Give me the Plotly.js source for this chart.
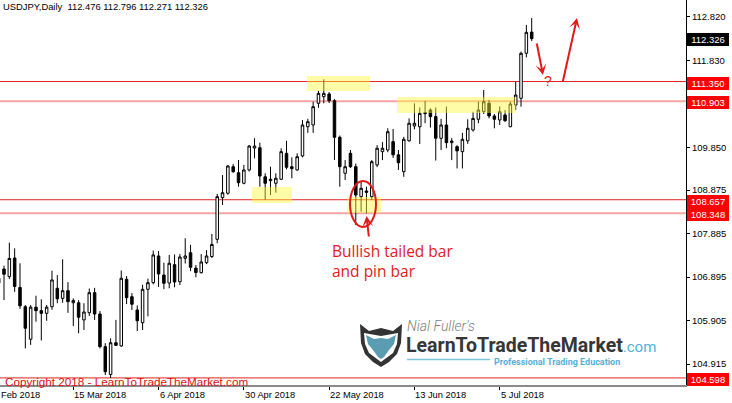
<!DOCTYPE html>
<html>
<head>
<meta charset="utf-8">
<script src="https://cdn.plot.ly/plotly-3.0.1.min.js"></script>
<style>
html,body{margin:0;padding:0;background:#fff;}
#chart{width:732px;height:403px;}
</style>
</head>
<body>
<div id="chart"></div>
<script>
// ---- data (USDJPY daily) ----
const dates = [
"2018-02-23","2018-02-26","2018-02-27","2018-02-28","2018-03-01","2018-03-02",
"2018-03-05","2018-03-06","2018-03-07","2018-03-08","2018-03-09",
"2018-03-12","2018-03-13","2018-03-14","2018-03-15","2018-03-16",
"2018-03-19","2018-03-20","2018-03-21","2018-03-22","2018-03-23",
"2018-03-26","2018-03-27","2018-03-28","2018-03-29","2018-03-30",
"2018-04-02","2018-04-03","2018-04-04","2018-04-05","2018-04-06",
"2018-04-09","2018-04-10","2018-04-11","2018-04-12","2018-04-13",
"2018-04-16","2018-04-17","2018-04-18","2018-04-19","2018-04-20",
"2018-04-23","2018-04-24","2018-04-25","2018-04-26","2018-04-27",
"2018-04-30","2018-05-01","2018-05-02","2018-05-03","2018-05-04",
"2018-05-07","2018-05-08","2018-05-09","2018-05-10","2018-05-11",
"2018-05-14","2018-05-15","2018-05-16","2018-05-17","2018-05-18",
"2018-05-21","2018-05-22","2018-05-23","2018-05-24","2018-05-25",
"2018-05-28","2018-05-29","2018-05-30","2018-05-31","2018-06-01",
"2018-06-04","2018-06-05","2018-06-06","2018-06-07","2018-06-08",
"2018-06-11","2018-06-12","2018-06-13","2018-06-14","2018-06-15",
"2018-06-18","2018-06-19","2018-06-20","2018-06-21","2018-06-22",
"2018-06-25","2018-06-26","2018-06-27","2018-06-28","2018-06-29",
"2018-07-02","2018-07-03","2018-07-04","2018-07-05","2018-07-06",
"2018-07-09","2018-07-10","2018-07-11","2018-07-12","2018-07-13"];

const open = [
106.76,107.08,106.906,107.33,106.66,106.22,
105.48,106.21,106.13,106.07,106.22,
106.64,106.41,106.585,106.31,106.31,
105.92,106.084,106.54,106.055,105.31,
104.676,105.40,105.326,106.845,106.449,
106.146,105.856,106.617,106.768,107.376,
106.943,106.76,107.178,106.79,107.323,
107.45,107.10,106.995,107.223,107.364,
107.756,108.704,108.804,109.41,109.273,
109.032,109.335,109.836,109.843,109.18,
109.091,109.032,109.123,109.715,109.41,
109.335,109.654,110.32,110.36,110.854,
111.005,111.066,110.913,110.08,109.26,
109.715,109.41,108.727,108.856,108.727,
109.45,109.752,109.79,109.98,109.68,
109.296,110.0,110.337,110.32,110.64,
110.70,110.55,110.057,110.36,109.957,
109.866,109.752,110.0,110.246,110.49,
110.663,110.854,110.565,110.474,110.59,
110.32,110.815,110.968,111.993,112.476];

const high = [
106.95,107.155,107.68,107.55,107.21,106.26,
106.26,106.47,106.39,106.26,107.04,
106.94,107.30,106.78,106.41,106.37,
106.30,106.635,106.65,106.12,105.39,
105.50,105.92,107.046,106.92,106.53,
106.25,106.72,106.86,107.50,107.49,
107.223,107.40,107.41,107.42,107.78,
107.63,107.17,107.42,107.51,107.877,
108.79,109.22,109.45,109.47,109.563,
109.45,109.904,110.057,109.956,109.26,
109.41,109.26,109.83,110.0,109.624,
109.715,110.474,110.50,110.89,111.14,
111.40,111.11,110.95,110.12,109.56,
109.79,109.48,109.07,108.954,109.56,
109.90,109.97,110.285,110.27,109.79,
110.09,110.51,110.854,110.76,110.907,
110.74,110.76,110.50,110.777,110.06,
109.90,110.18,110.49,110.66,110.89,
111.157,110.93,110.61,110.78,110.70,
110.89,111.346,112.03,112.64,112.796];

const low = [
106.70,106.37,106.85,106.56,106.17,105.27,
105.35,105.88,105.45,105.90,106.15,
106.30,106.31,106.08,105.78,105.615,
105.69,106.01,105.92,105.27,104.665,
104.598,105.33,105.31,106.28,106.146,
105.667,105.69,106.0,106.73,106.67,
106.62,106.64,106.663,106.715,107.205,
107.03,106.89,106.98,107.19,107.33,
107.665,108.538,108.77,109.27,108.954,
109.01,109.30,109.60,108.954,108.657,
108.765,108.818,109.107,109.35,109.146,
109.32,109.624,110.18,110.18,110.75,
110.854,110.86,109.563,108.954,109.107,
109.38,108.08,108.385,108.348,108.65,
109.40,109.56,109.74,109.61,109.335,
109.18,109.98,110.26,109.927,110.40,
110.30,109.55,109.79,109.83,109.56,
109.37,109.37,109.93,110.21,110.40,
110.61,110.51,110.285,110.36,110.43,
110.31,110.70,110.777,111.90,112.271];

const close = [
106.87,106.96,107.32,106.68,106.24,105.73,
106.21,106.13,106.07,106.21,106.83,
106.40,106.585,106.335,106.36,105.98,
106.10,106.54,106.055,105.31,104.74,
105.40,105.34,106.868,106.426,106.276,
105.90,106.617,106.768,107.40,106.966,
106.754,107.21,106.784,107.353,107.376,
107.118,107.0,107.24,107.376,107.638,
108.727,108.818,109.426,109.296,109.046,
109.335,109.88,109.88,109.198,109.032,
109.123,109.146,109.752,109.396,109.365,
109.638,110.36,110.435,110.777,111.08,
111.08,110.913,110.08,109.41,109.41,
109.41,108.765,108.918,108.826,109.524,
109.83,109.83,110.207,109.68,109.50,
110.034,110.40,110.40,110.626,110.62,
110.55,110.057,110.36,109.957,109.995,
109.77,110.034,110.285,110.51,110.70,
110.89,110.565,110.49,110.663,110.458,
110.838,111.043,111.993,112.47,112.326];

const tickDates  = ["2018-03-15","2018-04-06","2018-04-30","2018-05-22","2018-06-13","2018-07-05"];
const tickLabels = ["15 Mar 2018","6 Apr 2018","30 Apr 2018","22 May 2018","13 Jun 2018","5 Jul 2018"];
const edgeLabel = "Feb 2018";
const yTicks = [112.820, 111.830, 109.850, 108.875, 107.885, 106.895, 105.905, 104.915];
const levels = [111.350, 110.903, 108.657, 108.348, 104.598];
const levelKind = ["main","soft","main","soft","main"];
const lastPrice = 112.326;
const header = "USDJPY,Daily  112.476 112.796 112.271 112.326";

// ---- layout helpers (pixel -> paper) for decorations ----
const PW = 686, PH = 385;
const PX = x => x / PW;
const PY = y => 1 - y / PH;

const RED = "#e32222";
const PINK = "#f5a3a3";
const ARROW = "#e01b1b";

const shapes = [];
levels.forEach((v, i) => {
  shapes.push({type:"line", xref:"paper", yref:"y", x0:0, x1:1, y0:v, y1:v,
    layer:"below",
    line:{color: levelKind[i]==="main" ? RED : PINK, width: levelKind[i]==="main" ? 1 : 2}});
});
// yellow zones
const zones = [[307,76,370,91],[397,97,516,113],[252,187,292,203],[347,197,381,213]];
zones.forEach(z => shapes.push({type:"rect", xref:"paper", yref:"paper",
  x0:PX(z[0]), x1:PX(z[2]), y0:PY(z[3]), y1:PY(z[1]), layer:"above",
  line:{width:0}, fillcolor:"rgba(255,248,60,0.45)"}));
// ellipse
shapes.push({type:"circle", xref:"paper", yref:"paper", x0:PX(350), x1:PX(376),
  y0:PY(227), y1:PY(181), layer:"above", line:{color:ARROW, width:2}});
// logo shield
function path(pts){ return "M" + pts.map(p => PX(p[0]).toFixed(5)+","+PY(p[1]).toFixed(5)).join("L") + "Z"; }
shapes.push({type:"path", xref:"paper", yref:"paper", layer:"above", line:{width:0}, fillcolor:"#333",
  path: path([[360,324],[369,331],[381,328],[393,331],[402,324],[401,343],[397,354],[389,362],[381,367],[373,362],[365,354],[361,343]])});
shapes.push({type:"path", xref:"paper", yref:"paper", layer:"above", line:{width:0}, fillcolor:"#fff",
  path: path([[364,333],[381,336],[398,333],[397,344],[393,353],[381,362],[369,353],[365,344]])});
shapes.push({type:"path", xref:"paper", yref:"paper", layer:"above", line:{width:0}, fillcolor:"#5a9db3",
  path: path([[366,335],[374,339],[381,338],[388,339],[396,335],[394,344],[389,350],[384,357],[381,359],[378,357],[373,350],[368,344]])});
shapes.push({type:"line", xref:"paper", yref:"paper", x0:PX(407), x1:PX(490), y0:PY(359.5), y1:PY(359.5),
  layer:"above", line:{color:"#7fc3dd", width:1.5}});

const annotations = [];
// header
annotations.push({xref:"paper", yref:"paper", x:0, y:1, xanchor:"left", yanchor:"top", xshift:1, yshift:1,
  showarrow:false, text:header, font:{family:"Liberation Sans, Arial", size:9.4, color:"#000"}});
// bottom date labels
tickDates.forEach((d, i) => annotations.push({xref:"x", yref:"paper", x:dates.indexOf(d), y:0,
  xanchor:"left", yanchor:"top", yshift:-3, xshift:-1, showarrow:false, text:tickLabels[i],
  font:{family:"Liberation Sans, Arial", size:9.3, color:"#000"}}));
annotations.push({xref:"paper", yref:"paper", x:0, y:0, xanchor:"left", yanchor:"top", yshift:-3, xshift:-1,
  showarrow:false, text:edgeLabel, font:{family:"Liberation Sans, Arial", size:9.3, color:"#000"}});
// level labels
levels.forEach(v => annotations.push({xref:"paper", yref:"y", x:PX(687), y:v, xanchor:"left", yanchor:"middle",
  yshift:-1.5, showarrow:false, text:v.toFixed(3), bgcolor:"#ff0000", borderwidth:0, borderpad:1, width:40, height:11,
  font:{family:"Liberation Sans, Arial", size:9.5, color:"#fff"}}));
annotations.push({xref:"paper", yref:"y", x:PX(687), y:lastPrice, xanchor:"left", yanchor:"middle",
  yshift:-0.5, showarrow:false, text:lastPrice.toFixed(3), bgcolor:"#000", borderwidth:0, borderpad:1, width:40, height:11,
  font:{family:"Liberation Sans, Arial", size:9.5, color:"#fff"}});
// commentary
annotations.push({xref:"paper", yref:"paper", x:PX(330), y:PY(251), xanchor:"left", yanchor:"middle",
  showarrow:false, text:"Bullish tailed bar", font:{family:"Open Sans", size:15.5, color:"#dd1c1c"}});
annotations.push({xref:"paper", yref:"paper", x:PX(330), y:PY(271), xanchor:"left", yanchor:"middle",
  showarrow:false, text:"and pin bar", font:{family:"Open Sans", size:15.5, color:"#dd1c1c"}});
annotations.push({xref:"paper", yref:"paper", x:PX(547.5), y:PY(81), xanchor:"center", yanchor:"middle",
  showarrow:false, text:"?", font:{family:"Liberation Sans", size:14, color:ARROW}});
// arrows
function arrow(hx, hy, tx, ty){
  annotations.push({xref:"paper", yref:"paper", x:PX(hx), y:PY(hy), ax:tx-hx, ay:ty-hy, text:"",
    showarrow:true, arrowhead:3, arrowsize:0.9, arrowwidth:2, arrowcolor:ARROW, standoff:0, startstandoff:0});
}
arrow(366.5, 216, 369, 238);
arrow(543, 75, 536.5, 42);
arrow(577, 18, 562.5, 83);
// copyright
annotations.push({xref:"paper", yref:"paper", x:PX(3), y:PY(381.5), xanchor:"left", yanchor:"middle",
  showarrow:false, text:"Copyright 2018 - LearnToTradeTheMarket.com",
  font:{family:"Liberation Sans, Arial", size:11.7, color:"#e01010"}});
// logo texts
annotations.push({xref:"paper", yref:"paper", x:PX(406), y:PY(325.5), xanchor:"left", yanchor:"middle",
  showarrow:false, borderpad:0, text:"Nial Fuller's", font:{family:"Roboto", size:14, style:"italic", weight:300, color:"#7d7d7d"}});
annotations.push({xref:"paper", yref:"paper", x:PX(405), y:PY(345.2), xanchor:"left", yanchor:"middle",
  showarrow:false, borderpad:0,
  text:"LearnToTradeTheMarket<span style='font-size:15px;font-weight:normal;fill:#4fb2da'>.com</span>",
  font:{family:"Roboto", size:19.5, weight:"bold", color:"#363636"}});
annotations.push({xref:"paper", yref:"paper", x:PX(493), y:PY(362), xanchor:"left", yanchor:"middle",
  showarrow:false, borderpad:0,
  text:"Professional Trading Education", font:{family:"Roboto", size:9, weight:"bold", color:"#56b0d6"}});

const trace = {
  type:"candlestick",
  x: dates.map((d, i) => i),
  open: open, high: high, low: low, close: close,
  increasing:{line:{color:"#000", width:1}, fillcolor:"#ffffff"},
  decreasing:{line:{color:"#000", width:1}, fillcolor:"#000000"},
  whiskerwidth:0,
  hoverinfo:"skip"
};

const layout = {
  width:732, height:403,
  margin:{l:0, r:46, t:0, b:18},
  paper_bgcolor:"#fff", plot_bgcolor:"#fff",
  showlegend:false,
  xaxis:{
    type:"linear",
    range:[0.25, 128.95],
    rangeslider:{visible:false},
    showgrid:false, zeroline:false,
    tickvals: tickDates.map(d => dates.indexOf(d)),
    ticktext: tickDates.map(() => ""),
    ticks:"outside", ticklen:3, tickcolor:"#000", tickwidth:1,
    showline:true, linecolor:"#8a8a8a", linewidth:1.5
  },
  yaxis:{
    side:"right",
    range:[104.437, 113.207],
    showgrid:false, zeroline:false,
    tickvals: yTicks,
    ticktext: yTicks.map(v => v.toFixed(3)),
    ticks:"outside", ticklen:3, tickcolor:"#000", tickwidth:1,
    tickfont:{family:"Liberation Sans, Arial", size:9.5, color:"#000"},
    showline:true, linecolor:"#000", linewidth:1
  },
  boxgap:0.33,
  shapes: shapes,
  annotations: annotations
};

Plotly.newPlot("chart", [trace], layout, {staticPlot:true, displayModeBar:false});
</script>
</body>
</html>
